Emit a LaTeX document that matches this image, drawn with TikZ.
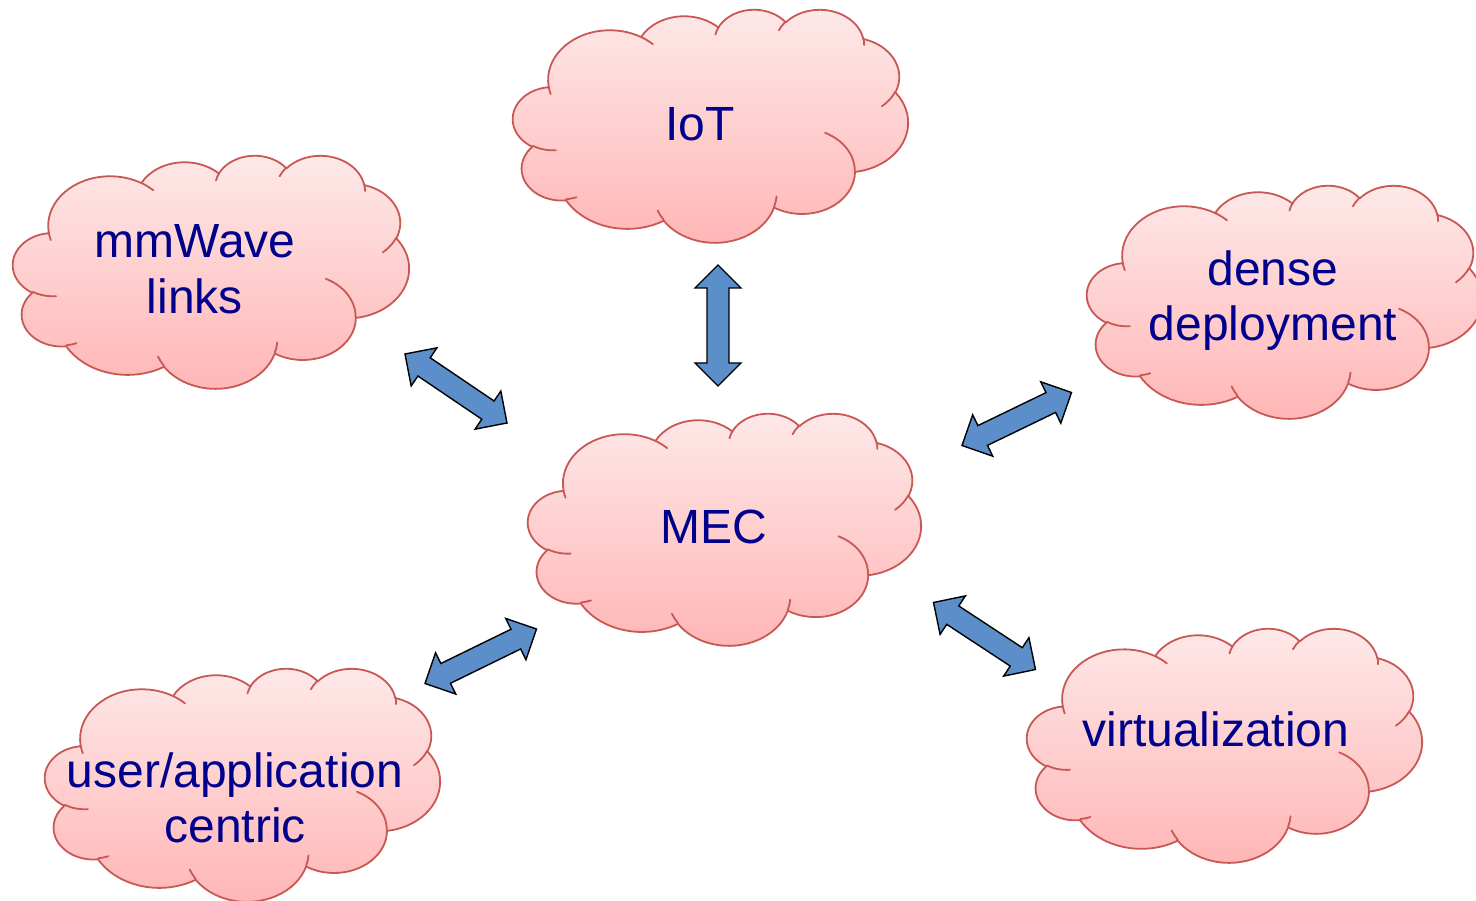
\documentclass[tikz,border=0pt]{standalone}
\usepackage{fontspec}
\setmainfont{Liberation Sans}
\usetikzlibrary{calc}

\definecolor{cloudtop}{RGB}{254,233,233}
\definecolor{cloudbottom}{RGB}{255,181,181}
\definecolor{cloudedge}{RGB}{200,88,84}
\definecolor{labelblue}{RGB}{0,0,140}
\definecolor{arrowblue}{RGB}{92,143,202}

% elliptical arc given by its radii, visual start angle and sweep
\newcommand\carc[4]{arc[x radius=#1, y radius=#2,
  start angle={atan2((#1)*sin(#3),(#2)*cos(#3))},
  delta angle={mod(atan2((#1)*sin((#3)+(#4)),(#2)*cos((#3)+(#4)))-atan2((#1)*sin(#3),(#2)*cos(#3))+720,360)}]}

% cloud outline in a 43.2 x 43.2 frame
\newcommand\cloudouter{(3.900,14.370)
  \carc{6.753}{9.190}{-190.4875}{123.7805}
  \carc{5.333}{7.267}{-144.1024}{89.9452}
  \carc{4.365}{5.945}{-145.8079}{99.7230}
  \carc{4.857}{6.595}{-130.9861}{117.2417}
  \carc{5.333}{7.273}{-78.7089}{109.0269}
  \carc{6.775}{9.220}{-46.2673}{130.2690}
  \carc{5.785}{7.867}{0.6250}{114.0333}
  \carc{6.752}{9.215}{22.4516}{115.1726}
  \carc{7.720}{10.543}{66.2426}{75.7110}
  \carc{4.360}{5.918}{-274.9421}{146.7356}
  \carc{4.345}{5.945}{-246.8285}{152.5189}
  -- cycle}

% inner fold lines of the cloud
\newcommand\cloudinner{
  (4.693,26.177) \carc{4.345}{5.945}{86.7420}{26.4295}
  (6.928,34.899) \carc{4.360}{5.918}{73.6105}{11.4475}
  (16.478,39.090) \carc{6.752}{9.215}{137.6242}{14.0811}
  (28.827,34.751) \carc{6.752}{9.215}{6.4533}{15.9984}
  (34.129,22.954) \carc{5.785}{7.867}{-70.2924}{70.9174}
  (41.798,15.354) \carc{5.333}{7.273}{30.3180}{27.7515}
  (38.324,5.426) \carc{4.857}{6.595}{-13.7443}{14.8589}
  (29.078,3.952) \carc{4.857}{6.595}{-149.1815}{18.1954}
  (22.141,4.720) \carc{4.365}{5.945}{-163.4943}{17.6864}
  (14.000,5.192) \carc{6.753}{9.190}{-66.7070}{12.3194}
  (4.127,15.789) \carc{6.753}{9.190}{157.6544}{11.8582}}

\tikzset{
  cloudbody/.style={draw=cloudedge, line width=1.8pt, top color=cloudtop,
    bottom color=cloudbottom, line join=round},
  cloudfold/.style={draw=cloudedge, line width=1.8pt, line cap=round},
  cloudlabel/.style={text=labelblue, font=\fontsize{48}{55.6}\selectfont,
    align=center, inner sep=0pt},
  barrow/.style={draw=black, line width=1.4pt, fill=arrowblue, line join=miter},
}

% cloud with top-left corner (#1,#2), width #3, height #4
\newcommand\drawcloud[4]{%
  \begin{scope}[shift={(#1,#2)}, xscale=#3/43.2, yscale=#4/43.2]
    \path[cloudbody] \cloudouter;
    \path[cloudfold] \cloudinner;
  \end{scope}}

% double-headed block arrow between two named tips
\newcommand\blockarrow[2]{%
  \path ($(#1)!23pt!(#2)$) coordinate (#1-h) ($(#2)!23pt!(#1)$) coordinate (#2-h);
  \draw[barrow] (#1) -- ($(#1-h)!23pt!90:(#2)$) -- ($(#1-h)!11pt!90:(#2)$)
    -- ($(#2-h)!11pt!-90:(#1)$) -- ($(#2-h)!23pt!-90:(#1)$) -- (#2)
    -- ($(#2-h)!23pt!90:(#1)$) -- ($(#2-h)!11pt!90:(#1)$)
    -- ($(#1-h)!11pt!-90:(#2)$) -- ($(#1-h)!23pt!-90:(#2)$) -- cycle;}

\begin{document}
\begin{tikzpicture}[x=1pt, y=-1pt]
  \useasboundingbox (0,0) rectangle (1476,901);

  % clouds
  \drawcloud{513}{9}{395}{233}
  \drawcloud{528}{413}{393}{232}
  \drawcloud{13}{155}{396}{233}
  \drawcloud{1087}{185}{395}{233}
  \drawcloud{45}{668}{395}{233}
  \drawcloud{1027}{628}{395}{234}

  % labels
  \node[cloudlabel] (iot) at (700,124) {IoT};
  \node[cloudlabel] (mec) at (714,527) {MEC};
  \node[cloudlabel] (mmw) at (195,269) {mmWave\\links};
  \node[cloudlabel] (dense) at (1273,300.6) {dense\\deployment};
  \node[cloudlabel] (user) at (235,798) {user/application\\centric};
  \node[cloudlabel] (virt) at (1216,729.5) {virtualization};

  % arrow tips
  \coordinate (iot-a) at (718,265);
  \coordinate (iot-b) at (718,386);
  \coordinate (mmw-a) at (405,354);
  \coordinate (mmw-b) at (507,423);
  \coordinate (dense-a) at (1071.5,392.5);
  \coordinate (dense-b) at (962,445.5);
  \coordinate (user-a) at (536.5,629);
  \coordinate (user-b) at (425,683.5);
  \coordinate (virt-a) at (933.5,602.5);
  \coordinate (virt-b) at (1035.5,669.5);

  \blockarrow{iot-a}{iot-b}
  \blockarrow{mmw-a}{mmw-b}
  \blockarrow{dense-a}{dense-b}
  \blockarrow{user-a}{user-b}
  \blockarrow{virt-a}{virt-b}
\end{tikzpicture}
\end{document}
